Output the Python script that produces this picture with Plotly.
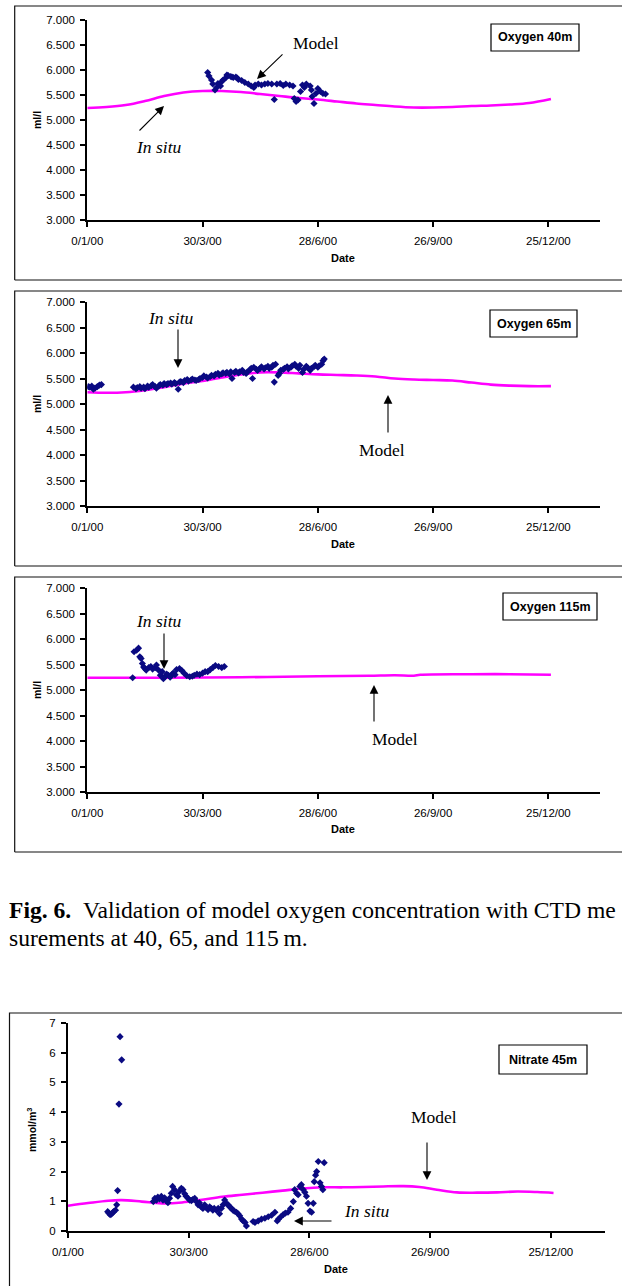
import plotly.graph_objects as go

W, H = 622, 1286

# ---------------- data ----------------
tick_days = [0, 90, 180, 270, 360]
tick_labels = ["0/1/00", "30/3/00", "28/6/00", "26/9/00", "25/12/00"]

# Oxygen 40 m
o40_model_day = [0, 15, 30, 45, 60, 75, 90, 105, 120, 135, 150, 165, 180, 195, 210, 225,
                 240, 255, 270, 285, 300, 315, 330, 345, 362]
o40_model_val = [5.24, 5.26, 5.30, 5.38, 5.48, 5.55, 5.58, 5.58, 5.56, 5.52, 5.48, 5.44,
                 5.41, 5.37, 5.33, 5.30, 5.27, 5.25, 5.25, 5.26, 5.28, 5.29, 5.31, 5.34, 5.42]
o40_obs_day = [94, 95, 97, 98, 99.7, 101, 102, 104, 105, 106, 108, 109, 110, 112, 113, 114,
               116, 117, 118, 120.5, 123, 125.7, 128, 130, 131, 133.5, 136, 138.6, 141, 144,
               146, 148, 150.6, 153, 155, 158, 160.6, 161.6, 163, 164.5, 166.5, 168, 169.5,
               171, 174, 175, 175.6, 177, 178.5, 180, 182, 184, 186]
o40_obs_val = [5.95, 5.88, 5.80, 5.72, 5.60, 5.65, 5.73, 5.68, 5.77, 5.80, 5.84, 5.90, 5.89,
               5.87, 5.86, 5.85, 5.86, 5.84, 5.81, 5.79, 5.75, 5.72, 5.68, 5.65, 5.70, 5.72,
               5.70, 5.72, 5.73, 5.72, 5.41, 5.72, 5.73, 5.69, 5.72, 5.70, 5.68, 5.43, 5.37,
               5.40, 5.57, 5.70, 5.65, 5.72, 5.68, 5.60, 5.47, 5.33, 5.53, 5.63, 5.57, 5.53, 5.52]

# Oxygen 65 m
o65_model_day = [0, 15, 30, 45, 60, 75, 90, 105, 120, 135, 150, 165, 180, 195, 210, 225,
                 240, 255, 270, 285, 300, 315, 330, 345, 362]
o65_model_val = [5.23, 5.22, 5.23, 5.27, 5.33, 5.40, 5.45, 5.52, 5.58, 5.62, 5.62, 5.60,
                 5.58, 5.57, 5.56, 5.54, 5.50, 5.48, 5.47, 5.46, 5.42, 5.38, 5.36, 5.35, 5.35]
o65_obs_day = [0.8, 2, 3.5, 4.7, 6, 7.8, 9.4, 11,
               36, 38, 39, 41, 42, 44, 45, 47, 48, 50, 51, 53, 54, 56, 57, 59, 60, 62, 63, 65,
               66, 68, 69, 71, 72, 73, 75, 76, 78, 79, 81, 82, 84, 85, 87, 88, 90, 91, 93, 94,
               96, 97, 99, 100, 102, 103, 105, 106, 108, 109, 111, 112, 113, 115, 116, 118,
               119, 121, 122, 124, 125, 127, 128, 129, 130, 132, 133, 135, 136, 138, 139, 141,
               142, 144, 145, 146, 147, 149, 150, 151, 153, 154, 156, 157, 159, 160, 162, 163,
               165, 166, 168, 169, 171, 172, 174, 175, 177, 178, 180, 181, 183, 184, 185]
o65_obs_val = [5.34, 5.33, 5.35, 5.29, 5.31, 5.34, 5.37, 5.38,
               5.33, 5.30, 5.32, 5.34, 5.31, 5.33, 5.30, 5.35, 5.33, 5.36, 5.38, 5.34, 5.31,
               5.36, 5.38, 5.37, 5.40, 5.38, 5.40, 5.41, 5.39, 5.42, 5.40, 5.29, 5.43, 5.44,
               5.42, 5.46, 5.48, 5.45, 5.47, 5.49, 5.47, 5.46, 5.48, 5.50, 5.52, 5.55, 5.53,
               5.51, 5.54, 5.56, 5.55, 5.58, 5.60, 5.57, 5.59, 5.61, 5.60, 5.62, 5.59, 5.63,
               5.50, 5.62, 5.64, 5.61, 5.63, 5.66, 5.62, 5.60, 5.63, 5.67, 5.70, 5.50, 5.72,
               5.68, 5.66, 5.70, 5.73, 5.69, 5.71, 5.74, 5.70, 5.72, 5.76, 5.43, 5.78, 5.56,
               5.60, 5.66, 5.68, 5.70, 5.73, 5.69, 5.72, 5.75, 5.78, 5.74, 5.70, 5.76, 5.62,
               5.68, 5.74, 5.71, 5.66, 5.70, 5.73, 5.76, 5.72, 5.75, 5.78, 5.85, 5.88]

# Oxygen 115 m
o115_model_day = [0, 60, 120, 180, 220, 240, 255, 260, 300, 330, 362]
o115_model_val = [5.24, 5.24, 5.25, 5.27, 5.28, 5.29, 5.28, 5.30, 5.31, 5.31, 5.30]
o115_obs_day = [35.4, 36.5, 38.5, 40, 41, 42, 43, 44, 45, 46, 48, 49.6, 51, 53, 54, 55.6, 57,
                58.5, 59.4, 60.7, 62, 63.4, 64.7, 66, 67, 68.5, 69.7, 72, 73.8, 75.6, 77.7,
                80, 82, 83.5, 85.6, 87.7, 90, 92, 94, 96, 98, 100, 102.5, 105, 107]
o115_obs_val = [5.24, 5.75, 5.78, 5.82, 5.65, 5.62, 5.52, 5.45, 5.42, 5.39, 5.44, 5.46, 5.41,
                5.44, 5.49, 5.39, 5.29, 5.36, 5.22, 5.26, 5.31, 5.29, 5.25, 5.30, 5.33, 5.30,
                5.40, 5.42, 5.38, 5.33, 5.28, 5.26, 5.27, 5.29, 5.31, 5.30, 5.33, 5.36, 5.36,
                5.40, 5.44, 5.48, 5.46, 5.44, 5.46]

# Nitrate 45 m
no3_model_day = [0, 15, 30, 40, 55, 70, 85, 100, 115, 130, 145, 160, 175, 190, 205, 220, 235,
                 250, 262, 275, 290, 305, 320, 335, 350, 362]
no3_model_val = [0.85, 0.94, 1.02, 1.04, 0.99, 0.93, 0.96, 1.05, 1.15, 1.22, 1.29, 1.36, 1.43,
                 1.47, 1.47, 1.48, 1.50, 1.51, 1.48, 1.39, 1.30, 1.29, 1.30, 1.33, 1.31, 1.28]
no3_obs_day = [29.6, 30.5, 31.4, 32.4, 33.4, 34, 35.4, 36.3, 37, 38, 38.8, 40,
               63.6, 64.8, 66, 67, 68.3, 69.6, 70.8, 72, 73.3, 74.5, 75.7, 77, 78, 79.4, 80.7,
               82, 83, 84.5, 85.7, 87, 88, 89.5, 90.7, 92, 93, 94.5, 95.7, 97, 98, 99.4, 100.6,
               101.9, 103, 104.4, 105.6, 106.9, 108, 109, 110.6, 112, 113, 114.3, 115.6, 116.8,
               118, 119.4, 120.6, 121.9, 123, 124, 125.6, 126.8, 128, 129.4, 130.6, 132, 133,
               138, 139.4, 141.8, 144.3, 146.8, 149.3, 151.8, 154.3, 156, 157, 158.7, 160.4,
               162, 164, 166, 168, 169, 170.4, 171.6, 172.9, 174, 175.4, 176.6, 177.8, 179,
               180.4, 181.6, 182.9, 183.6, 184.6, 185.4, 186.6, 187.9, 189, 190, 191]
no3_obs_val = [0.65, 0.60, 0.55, 0.57, 0.62, 0.65, 0.70, 0.88, 1.36, 4.27, 6.54, 5.76,
               0.99, 1.10, 1.04, 1.14, 1.08, 1.17, 1.04, 1.12, 1.02, 0.95, 1.10, 1.27, 1.50,
               1.39, 1.22, 1.17, 1.33, 1.44, 1.39, 1.25, 1.17, 1.10, 1.04, 1.02, 1.06, 1.10,
               0.99, 0.88, 0.95, 0.81, 0.76, 0.88, 0.79, 0.72, 0.81, 0.76, 0.70, 0.76, 0.70,
               0.76, 0.58, 0.76, 0.88, 1.04, 0.93, 0.88, 0.81, 0.76, 0.70, 0.67, 0.63, 0.58,
               0.51, 0.40, 0.34, 0.29, 0.17, 0.32, 0.29, 0.34, 0.40, 0.43, 0.48, 0.53, 0.63,
               0.34, 0.40, 0.48, 0.55, 0.60, 0.63, 0.76, 0.99, 1.39, 1.27, 1.22, 1.50, 1.56,
               1.39, 1.30, 1.17, 0.93, 0.67, 0.63, 0.93, 1.66, 1.88, 2.00, 2.34, 1.62, 1.50,
               1.39, 2.30]

# ---------------- styling helpers ----------------
SANS = "Liberation Sans, Arial, sans-serif"
SERIF = "Liberation Serif, Times New Roman, serif"
MAGENTA = "#ff00ff"
NAVY = "#0a0a82"


def X(px):
    return px / W


def Y(py):
    return 1 - py / H


fig = go.Figure()

panels = [
    ("", o40_model_day, o40_model_val, o40_obs_day, o40_obs_val, 87.3, 599.6, 20, 220, [3, 7], 0.5, ".3f"),
    ("2", o65_model_day, o65_model_val, o65_obs_day, o65_obs_val, 87.3, 599.6, 302, 506, [3, 7], 0.5, ".3f"),
    ("3", o115_model_day, o115_model_val, o115_obs_day, o115_obs_val, 87.3, 599.6, 588, 792, [3, 7], 0.5, ".3f"),
    ("4", no3_model_day, no3_model_val, no3_obs_day, no3_obs_val, 68, 604.5, 1023, 1231, [0, 7], 1, "d"),
]

layout_axes = {}
for suf, md, mv, od, ov, x0, x1, yt, yb, yr, dt, fmt in panels:
    xa = "x" + suf
    ya = "y" + suf
    fig.add_trace(go.Scatter(x=md, y=mv, mode="lines",
                             line=dict(color=MAGENTA, width=2.6, shape="spline", smoothing=1.0),
                             xaxis=xa, yaxis=ya, showlegend=False, hoverinfo="skip"))
    fig.add_trace(go.Scatter(x=od, y=ov, mode="markers",
                             marker=dict(symbol="diamond", size=5.5, color=NAVY, line=dict(width=0)),
                             xaxis=xa, yaxis=ya, showlegend=False))
    axcommon = dict(showline=True, linecolor="black", linewidth=2, ticks="outside", ticklen=5,
                    tickwidth=1.5, tickcolor="black", showgrid=False, zeroline=False, automargin=False,
                    tickfont=dict(family=SANS, size=11.5, color="black"))
    layout_axes["xaxis" + suf] = dict(axcommon, domain=[X(x0), X(x1)], range=[0, 400], tickmode="array",
                                      tickvals=tick_days, ticktext=tick_labels, anchor=ya,
                                      ticklabelstandoff=4)
    layout_axes["yaxis" + suf] = dict(axcommon, domain=[Y(yb), Y(yt)], range=yr, dtick=dt, tick0=0,
                                      tickformat=fmt, anchor=xa, ticklabelstandoff=3)

fig.update_layout(**layout_axes)

shapes = []
annotations = []

# chart-area frames (open on the sides that run off the page)
for (l, t, b) in [(14.7, 6, 280), (14.7, 291, 566), (14.7, 577, 852)]:
    path = "M %.5f,%.5f L %.5f,%.5f L %.5f,%.5f M %.5f,%.5f L %.5f,%.5f" % (
        X(W), Y(t), X(l), Y(t), X(l), Y(b), X(l), Y(b), X(W), Y(b))
    shapes.append(dict(type="path", xref="paper", yref="paper", path=path,
                       line=dict(color="#111111", width=1.2)))
path4 = "M %.5f,%.5f L %.5f,%.5f L %.5f,%.5f" % (X(W), Y(1013), X(9.5), Y(1013), X(9.5), Y(H))
shapes.append(dict(type="path", xref="paper", yref="paper", path=path4, line=dict(color="#111111", width=1.2)))

# label boxes
for (l, t, r, b, txt) in [(491, 24, 579, 51, "Oxygen 40m"), (490, 310, 577, 337, "Oxygen 65m"),
                          (503, 593, 597, 620, "Oxygen 115m"), (499, 1045, 587, 1074, "Nitrate 45m")]:
    shapes.append(dict(type="rect", xref="paper", yref="paper", x0=X(l), x1=X(r), y0=Y(b), y1=Y(t),
                       line=dict(color="black", width=1.2), fillcolor="white"))
    annotations.append(dict(text="<b>%s</b>" % txt, x=X((l + r) / 2), y=Y((t + b) / 2), xref="paper", yref="paper",
                            showarrow=False, xanchor="center", yanchor="middle",
                            font=dict(family=SANS, size=12.5, color="black")))

# axis titles
for (cx, cy, txt) in [(37, 120, "<b>ml/l</b>"), (37, 404, "<b>ml/l</b>"), (37, 690, "<b>ml/l</b>"),
                      (31, 1130, "<b>mmol/m<sup>3</sup></b>")]:
    annotations.append(dict(text=txt, x=X(cx), y=Y(cy), xref="paper", yref="paper", showarrow=False,
                            textangle=-90, xanchor="center", yanchor="middle",
                            font=dict(family=SANS, size=10.5, color="black")))
for (cx, cy) in [(343, 258), (343, 544), (343, 829), (336, 1269)]:
    annotations.append(dict(text="<b>Date</b>", x=X(cx), y=Y(cy), xref="paper", yref="paper", showarrow=False,
                            xanchor="center", yanchor="middle", font=dict(family=SANS, size=11, color="black")))

# text labels
for (cx, cy, txt) in [(316, 43, "Model"), (158, 147, "<i>In situ</i>"),
                      (171, 318, "<i>In situ</i>"), (382, 450, "Model"),
                      (158, 621, "<i>In situ</i>"), (395, 739, "Model"),
                      (434, 1117, "Model"), (366, 1211, "<i>In situ</i>")]:
    annotations.append(dict(text=txt, x=X(cx), y=Y(cy), xref="paper", yref="paper", showarrow=False,
                            xanchor="center", yanchor="middle", font=dict(family=SERIF, size=17.5, color="black")))

# arrows (tail -> head)
for (tx, ty, hx, hy) in [(284, 53, 257, 79), (138, 132, 164, 106),
                         (178, 328, 178, 368), (388, 434, 388, 395),
                         (164, 632, 164, 669), (374, 723, 374, 685),
                         (427, 1141, 427, 1180), (333, 1221, 294, 1221)]:
    annotations.append(dict(text="", x=X(hx), y=Y(hy), xref="paper", yref="paper", showarrow=True,
                            ax=tx - hx, ay=ty - hy, arrowhead=2, arrowsize=1.6, arrowwidth=1.1,
                            arrowcolor="black", standoff=0))

# caption (first line runs off the right edge of the page in the reference)
annotations.append(dict(text="<b>Fig. 6.</b>\u2002Validation of model oxygen concentration with CTD me",
                        x=X(7), y=Y(910), xref="paper", yref="paper", showarrow=False, xanchor="left",
                        yanchor="middle", font=dict(family=SERIF, size=23.6, color="black")))
annotations.append(dict(text="surements at 40, 65, and 115\u2009m.",
                        x=X(7), y=Y(938), xref="paper", yref="paper", showarrow=False, xanchor="left",
                        yanchor="middle", font=dict(family=SERIF, size=23.6, color="black")))

fig.update_layout(width=W, height=H, margin=dict(l=0, r=0, t=0, b=0, autoexpand=False), paper_bgcolor="white",
                  plot_bgcolor="white", shapes=shapes, annotations=annotations, showlegend=False)

fig.write_html("out.html", config={"displayModeBar": False},
               post_script="document.body.style.margin='0';document.body.style.overflow='hidden';")
